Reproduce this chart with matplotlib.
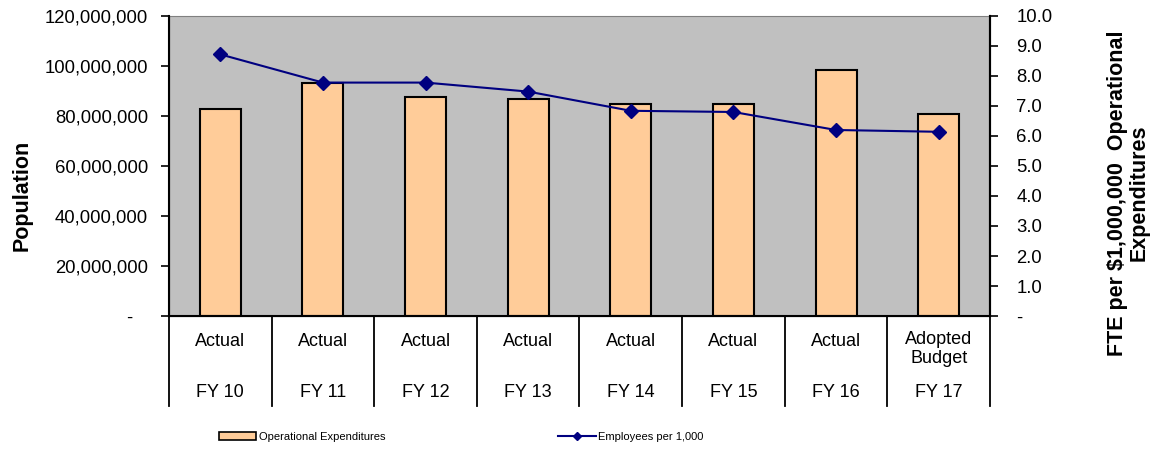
import numpy as np
import matplotlib.pyplot as plt
from matplotlib.ticker import FuncFormatter
from matplotlib.patches import Patch
from matplotlib.lines import Line2D

plt.rcParams['font.family'] = ['Liberation Sans', 'DejaVu Sans']

years = ['FY 10', 'FY 11', 'FY 12', 'FY 13', 'FY 14', 'FY 15', 'FY 16', 'FY 17']
status = ['Actual', 'Actual', 'Actual', 'Actual', 'Actual', 'Actual', 'Actual', 'Adopted\nBudget']
op_exp = [82.8e6, 93.2e6, 87.6e6, 86.8e6, 84.8e6, 84.8e6, 98.2e6, 80.6e6]
emp_per_1000 = [8.72, 7.78, 7.78, 7.48, 6.84, 6.80, 6.20, 6.14]

fig = plt.figure(figsize=(11.53, 4.49), dpi=100)
ax = fig.add_axes([0.1466, 0.2962, 0.7120, 0.6682])
ax.set_facecolor('#C0C0C0')

x = np.arange(len(years))
ax.bar(x, op_exp, width=0.4, color='#FFCC99', edgecolor='black', linewidth=1.5, zorder=2)
ax.set_xlim(-0.5, len(years) - 0.5)
ax.set_ylim(0, 120e6)
ax.set_yticks(np.arange(0, 120e6 + 1, 20e6))
ax.yaxis.set_major_formatter(FuncFormatter(lambda v, p: '-   ' if v == 0 else f'{v:,.0f}'))
ax.set_xticks([])
ax.tick_params(axis='y', labelsize=13.3, length=6, width=1.2, pad=9)

for s in ['left', 'bottom', 'right']:
    ax.spines[s].set_linewidth(1.5)
ax.spines['top'].set_color('#808080')

# category table below the axis
for b in np.arange(-0.5, len(years), 1.0):
    ax.axvline(b, ymin=-0.30, ymax=0, color='black', linewidth=1.3, clip_on=False)
trans = ax.get_xaxis_transform()
for i in range(len(years)):
    ax.text(i, -0.085 if '\n' not in status[i] else -0.11, status[i], transform=trans,
            ha='center', va='center', fontsize=13, linespacing=1.1)
    ax.text(i, -0.255, years[i], transform=trans, ha='center', va='center', fontsize=13)

ax2 = ax.twinx()
ax2.plot(x, emp_per_1000, color='#000080', linewidth=1.5, marker='D', markersize=7, zorder=3)
ax2.set_ylim(0, 10)
ax2.set_yticks(np.arange(0, 10.01, 1.0))
ax2.yaxis.set_major_formatter(FuncFormatter(lambda v, p: '-' if v == 0 else f'{v:.1f}'))
ax2.tick_params(axis='y', labelsize=13.3, length=6, width=1.2, pad=13)
ax2.spines['right'].set_linewidth(1.5)
ax2.spines['top'].set_visible(False)

# axis titles placed on the figure
fig.text(22 / 1153, 1 - 195 / 449, 'Population', rotation=90, fontsize=15.5,
         fontweight='bold', ha='center', va='center')
fig.text(1128 / 1153, 1 - 193 / 449, 'FTE per $1,000,000  Operational\nExpenditures',
         rotation=90, fontsize=15.5, fontweight='bold', ha='center', va='center',
         multialignment='center', linespacing=1.05)

handles = [Patch(facecolor='#FFCC99', edgecolor='black', linewidth=1.2),
           Line2D([], [], color='#000080', linewidth=1.5, marker='D', markersize=4)]
fig.legend(handles, ['Operational Expenditures', 'Employees per 1,000'],
           loc='center', bbox_to_anchor=(0.400, 0.027), ncol=2, frameon=False,
           fontsize=8, handlelength=3.4, handletextpad=0.25, columnspacing=15.5)

fig.savefig('out.png', dpi=100)
